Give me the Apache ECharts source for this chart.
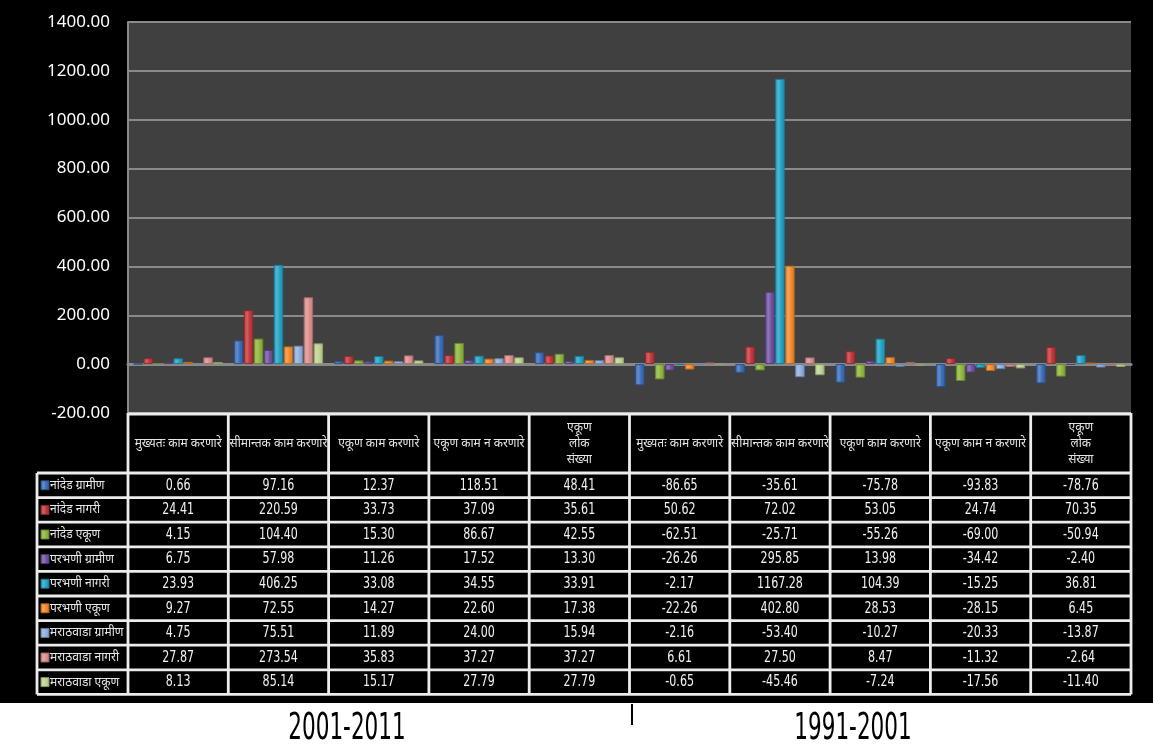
<!DOCTYPE html>
<html><head><meta charset="utf-8">
<script src="https://cdn.jsdelivr.net/npm/echarts@6/dist/echarts.min.js"></script>
<style>html,body{margin:0;padding:0;background:#fff}#c{width:1153px;height:750px}</style>
</head><body><div id="c"></div>
<script>
// ---- data ----
const categories = [
  'मुख्यतः काम करणारे','सीमान्तक काम करणारे','एकूण काम करणारे','एकूण काम न करणारे','एकूण\nलोक\nसंख्या',
  'मुख्यतः काम करणारे','सीमान्तक काम करणारे','एकूण काम करणारे','एकूण काम न करणारे','एकूण\nलोक\nसंख्या'
];
const periods = ['2001-2011', '1991-2001'];
const seriesNames = [
  'नांदेड ग्रामीण','नांदेड नागरी','नांदेड एकूण',
  'परभणी ग्रामीण','परभणी नागरी','परभणी एकूण',
  'मराठवाडा ग्रामीण','मराठवाडा नागरी','मराठवाडा एकूण'
];
const nandedRural   = [0.66, 97.16, 12.37, 118.51, 48.41, -86.65, -35.61, -75.78, -93.83, -78.76];
const nandedUrban   = [24.41, 220.59, 33.73, 37.09, 35.61, 50.62, 72.02, 53.05, 24.74, 70.35];
const nandedTotal   = [4.15, 104.40, 15.30, 86.67, 42.55, -62.51, -25.71, -55.26, -69.00, -50.94];
const parbhaniRural = [6.75, 57.98, 11.26, 17.52, 13.30, -26.26, 295.85, 13.98, -34.42, -2.40];
const parbhaniUrban = [23.93, 406.25, 33.08, 34.55, 33.91, -2.17, 1167.28, 104.39, -15.25, 36.81];
const parbhaniTotal = [9.27, 72.55, 14.27, 22.60, 17.38, -22.26, 402.80, 28.53, -28.15, 6.45];
const marathwadaRural = [4.75, 75.51, 11.89, 24.00, 15.94, -2.16, -53.40, -10.27, -20.33, -13.87];
const marathwadaUrban = [27.87, 273.54, 35.83, 37.27, 37.27, 6.61, 27.50, 8.47, -11.32, -2.64];
const marathwadaTotal = [8.13, 85.14, 15.17, 27.79, 27.79, -0.65, -45.46, -7.24, -17.56, -11.40];
const seriesValues = [nandedRural, nandedUrban, nandedTotal, parbhaniRural, parbhaniUrban, parbhaniTotal, marathwadaRural, marathwadaUrban, marathwadaTotal];
const yMin = -200, yMax = 1400, yStep = 200;

// ---- styling ----
const colors = ['#3a6cb8','#c0363a','#8db53c','#7150a2','#22a2c4','#f2882a','#8eaedc','#da8e8c','#bdd38f'];
function adj(hex, f) {
  const n = parseInt(hex.slice(1), 16);
  let r = (n >> 16) & 255, g = (n >> 8) & 255, b = n & 255;
  const m = v => f < 0 ? Math.round(v * (1 + f)) : Math.round(v + (255 - v) * f);
  return 'rgb(' + m(r) + ',' + m(g) + ',' + m(b) + ')';
}
function grad(c) {
  return new echarts.graphic.LinearGradient(0, 0, 1, 0, [
    {offset: 0, color: c}, {offset: 0.35, color: adj(c, 0.22)},
    {offset: 0.65, color: c}, {offset: 1, color: adj(c, -0.12)}]);
}

const W = 1153, gridLeft = 128, gridRight = 22, gridTop = 22, plotBottomY = 413;
const plotW = W - gridLeft - gridRight;
const colW = plotW / categories.length;
const headerH = 60, rowH = 24.6, legendLeft = 37;
const headerBottom = plotBottomY + headerH;
const tableBottom = headerBottom + rowH * seriesNames.length;
const tableRight = gridLeft + plotW;
const numFont = '"DejaVu Sans Condensed","Liberation Sans Narrow",sans-serif';
const devFont = '"Noto Sans","Noto Sans Devanagari","Lohit Devanagari",sans-serif';

const graphics = [];
graphics.push({type: 'rect', shape: {x: 0, y: 703, width: W, height: 47}, style: {fill: '#fff'}, z: 10});
const lineStyle = {stroke: '#ececec', lineWidth: 2.8};
graphics.push({type: 'line', shape: {x1: gridLeft, y1: plotBottomY + 1, x2: tableRight, y2: plotBottomY + 1}, style: lineStyle, z: 10});
for (let i = 0; i <= seriesNames.length; i++) {
  const y = headerBottom + i * rowH;
  graphics.push({type: 'line', shape: {x1: legendLeft, y1: y, x2: tableRight, y2: y}, style: lineStyle, z: 10});
}
graphics.push({type: 'line', shape: {x1: legendLeft, y1: headerBottom, x2: legendLeft, y2: tableBottom}, style: lineStyle, z: 10});
for (let j = 0; j <= categories.length; j++) {
  const x = gridLeft + j * colW;
  graphics.push({type: 'line', shape: {x1: x, y1: plotBottomY, x2: x, y2: tableBottom}, style: lineStyle, z: 10});
}
categories.forEach((c, j) => {
  graphics.push({type: 'text', x: gridLeft + (j + 0.5) * colW, y: plotBottomY + headerH / 2 + 1, z: 11,
    style: {text: c, fill: '#e6e6e6', font: '12px ' + devFont, align: 'center', verticalAlign: 'middle', lineHeight: 16}});
});
seriesNames.forEach((s, i) => {
  const cy = headerBottom + (i + 0.5) * rowH;
  graphics.push({type: 'rect', shape: {x: legendLeft + 4, y: cy - 4.5, width: 8, height: 9}, style: {fill: grad(colors[i]), stroke: adj(colors[i], -0.3), lineWidth: 1}, z: 11});
  graphics.push({type: 'text', x: legendLeft + 13, y: cy, z: 11,
    style: {text: s, fill: '#e6e6e6', font: '12px ' + devFont, align: 'left', verticalAlign: 'middle'}});
  seriesValues[i].forEach((v, j) => {
    graphics.push({type: 'text', x: gridLeft + (j + 0.5) * colW, y: cy + 0.5, scaleX: 0.82, z: 11,
      style: {text: v.toFixed(2), fill: '#f2f2f2', font: '15px ' + numFont, align: 'center', verticalAlign: 'middle'}});
  });
});
graphics.push({type: 'line', shape: {x1: 632, y1: 704, x2: 632, y2: 725}, style: {stroke: '#000', lineWidth: 2}, z: 12});
const periodX = [347, 853];
periods.forEach((p, k) => {
  graphics.push({type: 'text', x: periodX[k], y: 729, scaleX: 0.63, z: 12,
    style: {text: p, fill: '#000', font: '38px ' + numFont, align: 'center', verticalAlign: 'middle'}});
});

const chart = echarts.init(document.getElementById('c'), null, {renderer: 'canvas'});
chart.setOption({
  backgroundColor: '#000',
  animation: false,
  grid: {left: gridLeft, right: gridRight, top: gridTop, bottom: 750 - plotBottomY, show: true, backgroundColor: '#404040', borderWidth: 0},
  xAxis: {type: 'category', data: categories, axisTick: {show: false}, axisLabel: {show: false},
    axisLine: {onZero: true, lineStyle: {color: '#8a8a8a', width: 3}}},
  yAxis: {type: 'value', min: yMin, max: yMax, interval: yStep,
    axisLine: {show: true, lineStyle: {color: '#8a8a8a', width: 2}},
    splitLine: {lineStyle: {color: '#8a8a8a', width: 2}},
    axisLabel: {color: '#fff', fontSize: 17, fontFamily: '"Noto Sans",sans-serif', margin: 18, formatter: v => v.toFixed(2)}},
  series: seriesNames.map((n, i) => ({
    name: n, type: 'bar', data: seriesValues[i], barWidth: 9.5, barGap: '5%',
    itemStyle: {color: grad(colors[i]), borderColor: adj(colors[i], -0.25), borderWidth: 1}
  })),
  graphic: graphics
});
</script></body></html>
